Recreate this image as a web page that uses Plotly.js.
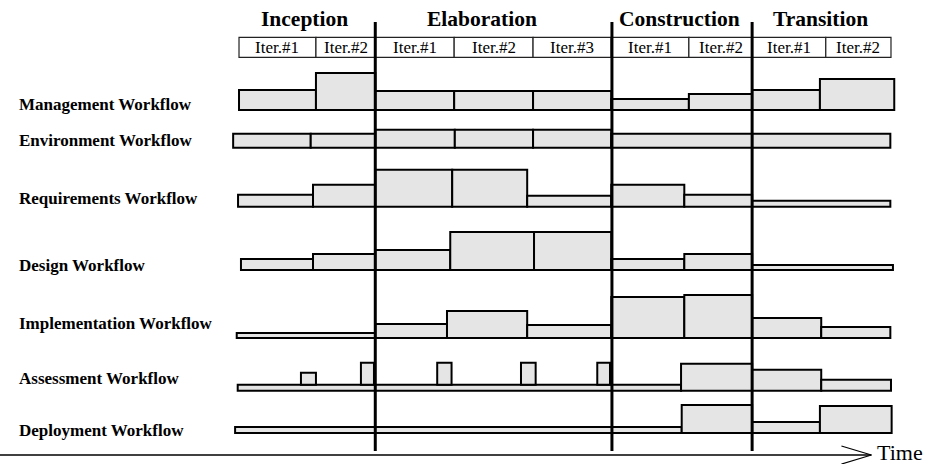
<!DOCTYPE html>
<html>
<head>
<meta charset="utf-8">
<script src="https://cdn.plot.ly/plotly-3.0.1.min.js"></script>
<style>
  html, body { margin: 0; padding: 0; background: #fff; }
  #chart { width: 929px; height: 464px; }
</style>
</head>
<body>
<div id="chart"></div>
<script>
/* Iterative process chart: effort per workflow over the four phases.
   Time runs 0..100 (% of project); effort is drawn upward from each row's
   baseline. */

// ---- data ---------------------------------------------------------------
var phaseNames = ["Inception", "Elaboration", "Construction", "Transition"];
var phaseLabelTime = [10.0, 37.3, 67.5, 89.2];
var phaseBoundaries = [20.9, 57.2, 78.7];

var iterEdges = [0, 11.8, 20.9, 33.0, 45.1, 57.1, 69.0, 78.7, 90.0, 100];
var iterLabels = ["Iter.#1", "Iter.#2", "Iter.#1", "Iter.#2", "Iter.#3",
                  "Iter.#1", "Iter.#2", "Iter.#1", "Iter.#2"];

var workflows = ["Management Workflow", "Environment Workflow", "Requirements Workflow",
                 "Design Workflow", "Implementation Workflow", "Assessment Workflow",
                 "Deployment Workflow"];

var managementEdges = [0, 11.8, 20.9, 33.0, 45.1, 57.1, 69.0, 78.7, 89.1, 100.5];
var managementEffort = [20, 37, 19, 19, 19, 11, 16, 20, 31];

var environmentEdges = [-0.9, 11.0, 20.9, 33.1, 45.1, 57.1, 78.7, 99.9];
var environmentEffort = [14, 14, 18, 18, 18, 14, 14];

var requirementsEdges = [-0.15, 11.35, 20.9, 32.7, 44.2, 57.1, 68.3, 78.7, 99.9];
var requirementsEffort = [12, 22, 37, 37, 11, 22, 12, 6];

var designEdges = [0.3, 11.35, 20.9, 32.4, 45.25, 57.1, 68.3, 78.7, 100.3];
var designEffort = [11, 16, 20, 38, 38, 11, 16, 5];

var implementationEdges = [-0.35, 20.9, 31.9, 44.2, 57.1, 68.3, 78.7, 89.3, 99.9];
var implementationEffort = [5, 14, 27, 13, 41, 43, 20, 11];

var assessmentEdges = [-0.2, 67.8, 78.7, 89.3, 100];
var assessmentEffort = [6, 27, 21, 11];
// short review spikes sitting on the low assessment level
var reviewStart = [9.5, 18.7, 30.4, 43.25, 54.95];
var reviewEnd = [11.8, 20.7, 32.6, 45.5, 56.9];
var reviewEffort = [12, 22, 22, 22, 22];

var deploymentEdges = [-0.6, 67.9, 78.7, 89.1, 100.1];
var deploymentEffort = [6, 28, 11, 27];

// ---- layout constants -----------------------------------------------------
var ROW_BASE = [110, 147.7, 206.7, 270, 338, 390.7, 433];
var ROW_LABEL_Y = [104, 140, 198, 265, 323, 378, 430];
var T_MIN = -36.66, T_MAX = 105.83;
var SERIF = "Liberation Serif";
var FILL = "#e5e5e5";

function segBars(edges, effort, base, fill, lineW) {
  var x = [], w = [], y = [];
  for (var i = 0; i < effort.length; i++) {
    x.push((edges[i] + edges[i + 1]) / 2);
    w.push(edges[i + 1] - edges[i]);
    y.push(-effort[i]);
  }
  return {
    type: "bar", x: x, y: y, width: w, base: base,
    marker: { color: fill, line: { color: "#000", width: lineW } },
    hoverinfo: "skip", showlegend: false
  };
}

var rows = [
  [managementEdges, managementEffort],
  [environmentEdges, environmentEffort],
  [requirementsEdges, requirementsEffort],
  [designEdges, designEffort],
  [implementationEdges, implementationEffort],
  [assessmentEdges, assessmentEffort],
  [deploymentEdges, deploymentEffort]
];

var traces = [];
rows.forEach(function (r, i) {
  traces.push(segBars(r[0], r[1], ROW_BASE[i], FILL, 2));
});

// review spikes on top of the assessment low level
(function () {
  var x = [], w = [], y = [];
  for (var i = 0; i < reviewStart.length; i++) {
    x.push((reviewStart[i] + reviewEnd[i]) / 2);
    w.push(reviewEnd[i] - reviewStart[i]);
    y.push(-reviewEffort[i]);
  }
  traces.push({
    type: "bar", x: x, y: y, width: w, base: ROW_BASE[5] - assessmentEffort[0],
    marker: { color: FILL, line: { color: "#000", width: 2 } },
    hoverinfo: "skip", showlegend: false
  });
})();

// iteration header boxes (labels added as annotations below)
var header = segBars(iterEdges, iterEdges.slice(1).map(function () { return 20; }),
                     57.3, "#fff", 1.2);
header.marker.line.color = "#222";
traces.push(header);

// phase boundaries
phaseBoundaries.forEach(function (t) {
  traces.push({
    type: "scatter", mode: "lines", x: [t, t], y: [22, 451],
    line: { color: "#000", width: 3 }, hoverinfo: "skip", showlegend: false
  });
});

// time axis with open arrow head
traces.push({
  type: "scatter", mode: "lines", x: [T_MIN, 97.0], y: [455, 455],
  line: { color: "#000", width: 1.3 }, hoverinfo: "skip", showlegend: false
});
traces.push({
  type: "scatter", mode: "lines", x: [92.4, 97.0, 92.4], y: [446, 455, 464],
  line: { color: "#000", width: 1.3 }, hoverinfo: "skip", showlegend: false
});

var annotations = [];
phaseNames.forEach(function (n, i) {
  annotations.push({
    x: phaseLabelTime[i], y: 19, text: "<b>" + n + "</b>", showarrow: false,
    xanchor: "center", yanchor: "middle",
    font: { family: SERIF, size: 21.5, color: "#000" }
  });
});
iterLabels.forEach(function (n, i) {
  annotations.push({
    x: (iterEdges[i] + iterEdges[i + 1]) / 2, y: 47.5, text: n, showarrow: false,
    xanchor: "center", yanchor: "middle",
    font: { family: SERIF, size: 17, color: "#000" }
  });
});
workflows.forEach(function (n, i) {
  annotations.push({
    x: -34.05, y: ROW_LABEL_Y[i], text: "<b>" + n + "</b>", showarrow: false,
    xanchor: "left", yanchor: "middle",
    font: { family: SERIF, size: 17, color: "#000" }
  });
});
annotations.push({
  x: 97.5, y: 452, text: "Time", showarrow: false, xanchor: "left", yanchor: "middle",
  font: { family: SERIF, size: 22, color: "#000" }
});

var layout = {
  width: 929, height: 464, autosize: false,
  margin: { l: 0, r: 0, t: 0, b: 0, pad: 0 },
  paper_bgcolor: "#fff", plot_bgcolor: "#fff",
  barmode: "overlay",
  font: { family: SERIF, color: "#000" },
  xaxis: { range: [T_MIN, T_MAX], visible: false, fixedrange: true },
  yaxis: { range: [464, 0], visible: false, fixedrange: true },
  annotations: annotations,
  showlegend: false
};

Plotly.newPlot("chart", traces, layout, { displayModeBar: false, staticPlot: true });
</script>
</body>
</html>
